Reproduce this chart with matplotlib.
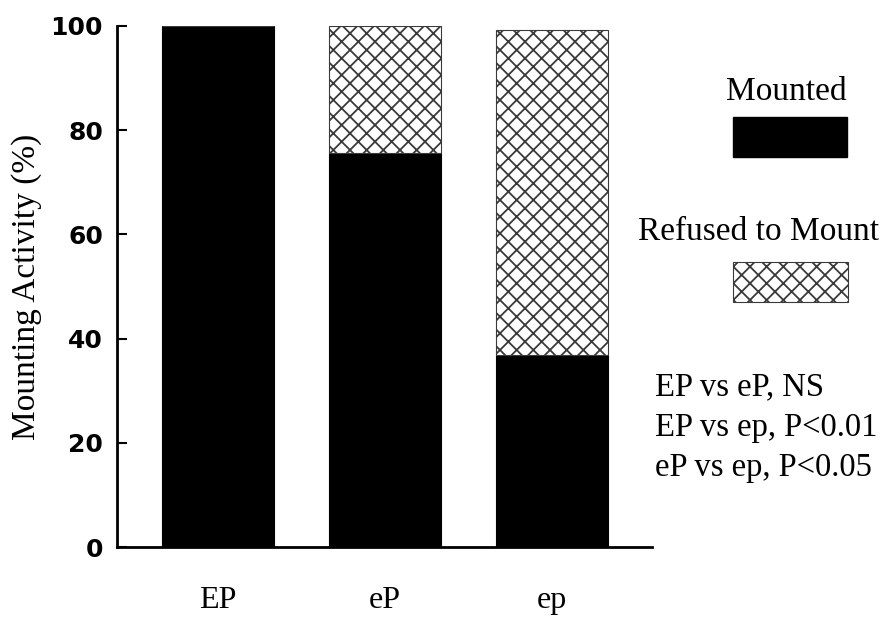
import matplotlib
matplotlib.use('Agg')
import matplotlib.pyplot as plt
from matplotlib.patches import Rectangle

groups = ['EP', 'eP', 'ep']
mounted = [100, 75.6, 36.8]
refused = [0, 24.4, 62.4]
yticks = [0, 20, 40, 60, 80, 100]
stats = ['EP vs eP, NS', 'EP vs ep, P<0.01', 'eP vs ep, P<0.05']

plt.rcParams['hatch.linewidth'] = 1.3
serif = 'Liberation Serif'

fig = plt.figure(figsize=(8.85, 6.19), dpi=100)
ax = fig.add_axes([0.1322, 0.1163, 0.6045, 0.8417])

x = range(len(groups))
ax.bar(x, mounted, width=0.67, color='black', edgecolor='black', linewidth=0.8)
ax.bar(x, refused, width=0.67, bottom=mounted, color='white',
       edgecolor='#3a3a3a', hatch='xx', linewidth=0.8)

ax.set_xlim(-0.605, 2.6)
ax.set_ylim(0, 100)
ax.set_yticks(yticks)
ax.set_xticks(list(x))
ax.set_xticklabels(groups, family=serif, fontsize=23)
for lab in ax.get_yticklabels():
    lab.set_family('DejaVu Sans')
    lab.set_fontweight('bold')
    lab.set_fontsize(18)

ax.spines['top'].set_visible(False)
ax.spines['right'].set_visible(False)
ax.spines['left'].set_linewidth(2)
ax.spines['bottom'].set_linewidth(2)
ax.tick_params(axis='y', direction='in', length=7, width=1.5, pad=10)
ax.tick_params(axis='x', length=0, pad=28)

ax.set_ylabel('Mounting Activity (%)', family=serif, fontsize=24)
ax.yaxis.set_label_coords(-0.14, 0.5)

# legend drawn by hand: label above swatch
fig.text(0.888, 0.8514, 'Mounted', family=serif, fontsize=24, ha='center', va='center')
fig.patches.append(Rectangle((0.8282, 0.7464), 0.1288, 0.0646, transform=fig.transFigure,
                             facecolor='black', edgecolor='black', figure=fig))
fig.text(0.8576, 0.6252, 'Refused to Mount', family=serif, fontsize=24, ha='center', va='center')
fig.patches.append(Rectangle((0.8282, 0.5121), 0.1300, 0.0646, transform=fig.transFigure,
                             facecolor='white', edgecolor='#3a3a3a', hatch='xx',
                             linewidth=0.8, figure=fig))

for i, s in enumerate(stats):
    fig.text(0.740, 0.3748 - i * 0.0655, s, family=serif, fontsize=23.5, ha='left', va='center')

fig.savefig('out.png', dpi=100)
